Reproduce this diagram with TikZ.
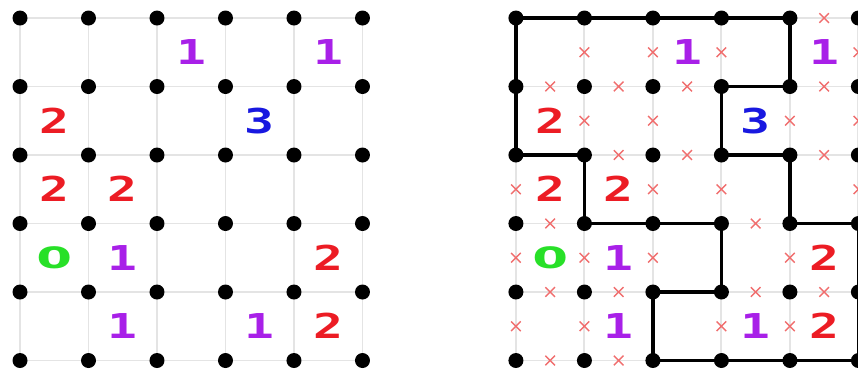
\documentclass[tikz,border=0pt]{standalone}
\usepackage{fontspec}
\usepackage{xcolor}
\newfontfamily\cluefont{DejaVu Sans Mono}[FakeStretch=1.45]
\newfontfamily\zerofont{DejaVu Sans}
\definecolor{slgrid}{RGB}{228,228,228}
\definecolor{slone}{RGB}{168,32,232}
\definecolor{sltwo}{RGB}{236,28,36}
\definecolor{slthree}{RGB}{24,24,224}
\definecolor{slzero}{RGB}{40,224,40}
\definecolor{slcross}{RGB}{240,110,110}
\newcommand{\slzero}{{\zerofont\scalebox{1.5}[0.86]{0}}}
\tikzset{
  gridline/.style={draw=slgrid, line width=1.1pt},
  loopline/.style={draw=black, line width=1.8pt, line join=round, line cap=round},
  gridpt/.style={fill=black},
  clue/.style={font=\cluefont\bfseries\fontsize{19.5}{20}\selectfont, inner sep=0pt},
  crossmark/.style={draw=slcross, line width=0.8pt}
}

\begin{document}
\begin{tikzpicture}[x=1.37cm, y=-1.37cm]
\useasboundingbox (-0.292,-0.263) rectangle (12.234,5.197);

% -------- PUZZLE (left) --------
\begin{scope}
\foreach \k in {0,...,5} {
  \draw[gridline] (\k,0) -- (\k,5);
  \draw[gridline] (0,\k) -- (5,\k);
}
\foreach \i in {0,...,5}
  \foreach \j in {0,...,5}
    \fill[gridpt] (\i,\j) circle (0.15cm);
\foreach \c/\r/\v/\col in {2/0/1/slone, 4/0/1/slone, 0/1/2/sltwo, 3/1/3/slthree,
    0/2/2/sltwo, 1/2/2/sltwo, 0/3/\slzero/slzero, 1/3/1/slone, 4/3/2/sltwo,
    1/4/1/slone, 3/4/1/slone, 4/4/2/sltwo}
  \node[clue, text=\col] (lc\c\r) at (\c+0.5,\r+0.5) {\v};
\end{scope}

% -------- SOLUTION (right) --------
\begin{scope}[shift={(7.24,0)}]
\foreach \k in {0,...,5} {
  \draw[gridline] (\k,0) -- (\k,5);
  \draw[gridline] (0,\k) -- (5,\k);
}
\foreach \i in {0,...,5}
  \foreach \j in {0,...,5}
    \coordinate (r\i\j) at (\i,\j);

% excluded edges
\foreach \i/\j in {4/0, 0/1, 1/1, 2/1, 4/1, 1/2, 2/2, 4/2, 0/3, 3/3,
    0/4, 1/4, 3/4, 4/4, 0/5, 1/5}
  \draw[crossmark, shift={(\i+0.5,\j)}] (-0.07,-0.07) -- (0.07,0.07) (-0.07,0.07) -- (0.07,-0.07);
\foreach \i/\j in {1/0, 2/0, 3/0, 5/0, 1/1, 2/1, 4/1, 5/1, 0/2, 2/2, 3/2, 5/2,
    0/3, 1/3, 2/3, 4/3, 0/4, 1/4, 3/4, 4/4}
  \draw[crossmark, shift={(\i,\j+0.5)}] (-0.07,-0.07) -- (0.07,0.07) (-0.07,0.07) -- (0.07,-0.07);

% the loop
\draw[loopline] (r00) -- (r10) -- (r20) -- (r30) -- (r40) -- (r41) -- (r31) -- (r32)
  -- (r42) -- (r43) -- (r53) -- (r54) -- (r55) -- (r45) -- (r35) -- (r25) -- (r24)
  -- (r34) -- (r33) -- (r23) -- (r13) -- (r12) -- (r02) -- (r01) -- cycle;

\foreach \i in {0,...,5}
  \foreach \j in {0,...,5}
    \fill[gridpt] (r\i\j) circle (0.15cm);
\foreach \c/\r/\v/\col in {2/0/1/slone, 4/0/1/slone, 0/1/2/sltwo, 3/1/3/slthree,
    0/2/2/sltwo, 1/2/2/sltwo, 0/3/\slzero/slzero, 1/3/1/slone, 4/3/2/sltwo,
    1/4/1/slone, 3/4/1/slone, 4/4/2/sltwo}
  \node[clue, text=\col] (rc\c\r) at (\c+0.5,\r+0.5) {\v};
\end{scope}

\end{tikzpicture}
\end{document}
